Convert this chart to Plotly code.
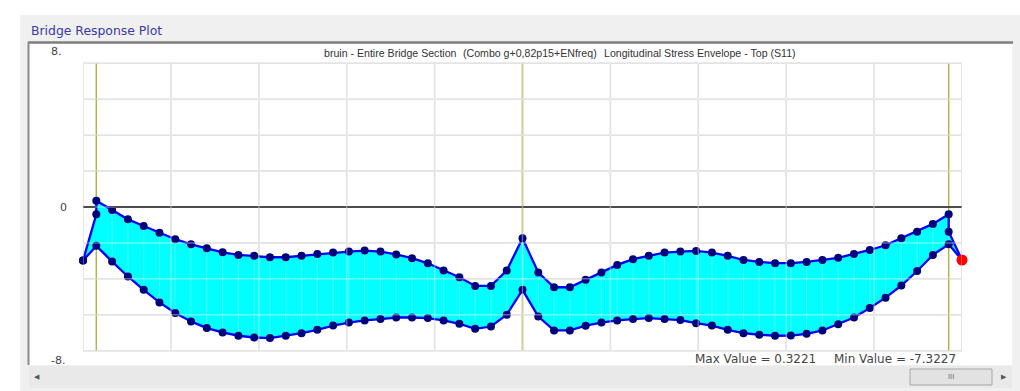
import plotly.graph_objects as go

# ---------------- data ----------------
span_len = 40.0            # m, each of the two spans
n_seg = 27                 # analysis stations per span
end_ext = 1.25             # overhang beyond abutments
stations = [round(i * span_len / n_seg, 3) for i in range(2 * n_seg + 1)]

support_x = [0.0, 40.0, 80.0]

# max (top) envelope, interior stations plus supports
upper_span1 = [-0.15, -0.63, -0.97, -1.31, -1.64, -1.90, -2.10, -2.31, -2.44, -2.49,
               -2.56, -2.56, -2.49, -2.39, -2.32, -2.27, -2.22, -2.27, -2.42, -2.61,
               -2.87, -3.24, -3.58, -4.02, -4.02, -3.24, -1.59]
upper_span2 = [-3.34, -4.09, -4.09, -3.71, -3.34, -2.95, -2.66, -2.49, -2.32, -2.27,
               -2.24, -2.32, -2.49, -2.70, -2.80, -2.86, -2.86, -2.80, -2.70, -2.59,
               -2.39, -2.19, -1.95, -1.59, -1.26, -0.86, -0.37]
lower_span1 = [-2.78, -3.54, -4.22, -4.86, -5.40, -5.83, -6.17, -6.39, -6.56, -6.65,
               -6.68, -6.56, -6.43, -6.26, -6.04, -5.89, -5.78, -5.71, -5.63, -5.63,
               -5.66, -5.78, -5.95, -6.21, -6.09, -5.49, -4.22]
lower_span2 = [-5.58, -6.29, -6.29, -6.05, -5.89, -5.78, -5.71, -5.66, -5.71, -5.76,
               -5.92, -6.04, -6.26, -6.43, -6.51, -6.56, -6.55, -6.46, -6.29, -5.97,
               -5.63, -5.15, -4.62, -4.00, -3.26, -2.44, -1.90]

start_val = -2.73
end_val = -2.70
upper_abut_left = [-0.37, 0.3221]     # two values at left abutment
upper_abut_right_extra = -1.26        # second value at right abutment
lower_abut_left = -1.98

max_value = 0.3221
min_value = -7.3227
y_ticks = ["8.", "0", "-8."]

chart_title = ["bruin - Entire Bridge Section",
               "(Combo g+0,82p15+ENfreq)",
               "Longitudinal Stress Envelope - Top (S11)"]
panel_title = "Bridge Response Plot"

# ---------------- assemble series ----------------
x_start = -end_ext
x_end = stations[-1] + end_ext
inner_x = stations[1:]
upper_x = [x_start, 0.0, 0.0] + inner_x + [stations[-1], x_end]
upper_y = [start_val] + upper_abut_left + upper_span1 + upper_span2 + [upper_abut_right_extra, end_val]
lower_x = [x_start, 0.0] + inner_x + [x_end]
lower_y = [start_val, lower_abut_left] + lower_span1 + lower_span2 + [end_val]

# ---------------- geometry helpers ----------------
W, H = 1020, 391
ML, MR, MT, MB = 83, 58, 50, 27
PW, PH = W - ML - MR, H - MT - MB

def px(X):
    return (X - ML) / PW

def py(Y):
    return (H - MB - Y) / PH

fig = go.Figure()

# envelope fill
fig.add_trace(go.Scatter(
    x=upper_x + lower_x[::-1], y=upper_y + lower_y[::-1],
    fill="toself", fillcolor="#00ffff", mode="none",
    hoverinfo="skip", showlegend=False))

# pale stripes inside the fill at stations
sx, sy = [], []
lo_map = dict(zip(lower_x, lower_y))
for xv, yv in zip(upper_x[3:-2], upper_y[3:-2]):
    sx += [xv, xv, None]
    sy += [lo_map.get(xv, yv), yv, None]
fig.add_trace(go.Scatter(x=sx, y=sy, mode="lines",
                         line=dict(color="rgba(255,255,255,0.3)", width=1),
                         hoverinfo="skip", showlegend=False))

for xs, ys in [(upper_x, upper_y), (lower_x, lower_y)]:
    fig.add_trace(go.Scatter(
        x=xs, y=ys, mode="lines+markers",
        line=dict(color="#0000ff", width=2.3),
        marker=dict(color="#00007a", size=8),
        cliponaxis=False, showlegend=False))

fig.add_trace(go.Scatter(x=[upper_x[-1]], y=[upper_y[-1]], mode="markers",
                         marker=dict(color="#ff0000", size=11),
                         cliponaxis=False, showlegend=False))

shapes = []
# panel / frame (paper coords)
shapes.append(dict(type="rect", xref="paper", yref="paper", x0=px(20), x1=px(1021),
                   y0=py(392), y1=py(15), fillcolor="#f0f0f0", line_width=0, layer="below"))
shapes.append(dict(type="rect", xref="paper", yref="paper", x0=px(28), x1=px(1012),
                   y0=py(365), y1=py(42), fillcolor="#ffffff", line_width=0, layer="below"))
shapes.append(dict(type="line", xref="paper", yref="paper", x0=px(28), x1=px(1013),
                   y0=py(42.5), y1=py(42.5), line=dict(color="#7e7e7e", width=2.5), layer="below"))
shapes.append(dict(type="line", xref="paper", yref="paper", x0=px(28.5), x1=px(28.5),
                   y0=py(365), y1=py(42), line=dict(color="#8a8a8a", width=2), layer="below"))
# scrollbar
shapes.append(dict(type="rect", xref="paper", yref="paper", x0=px(29), x1=px(1012),
                   y0=py(388), y1=py(366), fillcolor="#e9e9e9", line_width=0, layer="below"))
shapes.append(dict(type="rect", xref="paper", yref="paper", x0=px(910), x1=px(992),
                   y0=py(385), y1=py(369), fillcolor="#e2e2e2",
                   line=dict(color="#a6a6a6", width=1), layer="below"))

# grid (data coords)
gx0, gx1 = x_start, x_end
gy0, gy1 = -abs(min_value), abs(min_value)
nvx, nhy = 10, 8
grid_x = [gx0 + k * (gx1 - gx0) / nvx for k in range(nvx + 1)]
grid_y = [gy0 + k * (gy1 - gy0) / nhy for k in range(nhy + 1)]
for gxv in grid_x:
    shapes.append(dict(type="line", x0=gxv, x1=gxv, y0=gy0, y1=gy1,
                       line=dict(color="#d0d0d0", width=1.5), layer="below"))
for gyv in grid_y:
    shapes.append(dict(type="line", x0=gx0, x1=gx1, y0=gyv, y1=gyv,
                       line=dict(color="#d0d0d0", width=1.5), layer="below"))
# pale grid over the fill
for gxv in grid_x:
    shapes.append(dict(type="line", x0=gxv, x1=gxv, y0=gy0, y1=gy1,
                       line=dict(color="rgba(255,255,255,0.4)", width=1.5), layer="above"))
for gyv in grid_y:
    shapes.append(dict(type="line", x0=gx0, x1=gx1, y0=gyv, y1=gyv,
                       line=dict(color="rgba(255,255,255,0.4)", width=1.5), layer="above"))
# supports
for sxv in support_x:
    shapes.append(dict(type="line", x0=sxv, x1=sxv, y0=gy0, y1=gy1,
                       line=dict(color="#b4b44c", width=1.5), layer="below"))
# zero line
shapes.append(dict(type="line", x0=gx0, x1=gx1, y0=0, y1=0,
                   line=dict(color="#000000", width=2), layer="below"))

ann = []
txt_font = dict(family="DejaVu Sans", size=11, color="#444444")
ann.append(dict(text=panel_title, x=px(29), y=py(30), xanchor="left", yanchor="middle",
                font=dict(family="DejaVu Sans", size=12.4, color="#3a3aa8")))
title_pos = [322, 461, 602]
for t, X in zip(chart_title, title_pos):
    ann.append(dict(text=t, x=px(X), y=py(52.5), xanchor="left", yanchor="middle",
                    font=dict(family="Liberation Sans", size=10.6, color="#333333")))
ann.append(dict(text="Max Value = %.4f" % max_value, x=px(693), y=py(358.5), xanchor="left",
                yanchor="middle", font=dict(family="DejaVu Sans", size=12, color="#444444")))
ann.append(dict(text="Min Value = %.4f" % min_value, x=px(958), y=py(358.5), xanchor="right",
                yanchor="middle", font=dict(family="DejaVu Sans", size=12, color="#444444")))
ann.append(dict(text=y_ticks[0], x=px(64), y=py(51), xanchor="right", yanchor="middle", font=txt_font))
ann.append(dict(text=y_ticks[1], x=px(69), y=py(207), xanchor="right", yanchor="middle", font=txt_font))
ann.append(dict(text=y_ticks[2], x=px(67), y=py(360.5), xanchor="right", yanchor="middle", font=txt_font))
ann.append(dict(text="◀", x=px(37), y=py(377), xanchor="center", yanchor="middle",
                font=dict(family="DejaVu Sans", size=7, color="#555555")))
ann.append(dict(text="▶", x=px(1004), y=py(377), xanchor="center", yanchor="middle",
                font=dict(family="DejaVu Sans", size=7, color="#555555")))
ann.append(dict(text="III", x=px(951), y=py(377), xanchor="center", yanchor="middle",
                font=dict(family="DejaVu Sans", size=7, color="#666666")))
for a in ann:
    a.update(xref="paper", yref="paper", showarrow=False)

fig.update_layout(
    width=W, height=H,
    margin=dict(l=ML, r=MR, t=MT, b=MB, pad=0),
    paper_bgcolor="#ffffff", plot_bgcolor="rgba(0,0,0,0)",
    xaxis=dict(range=[x_start, x_end], visible=False, fixedrange=True),
    yaxis=dict(range=[-8, 8], visible=False, fixedrange=True),
    shapes=shapes, annotations=ann, showlegend=False,
)
fig.write_html("out.html", config={"displayModeBar": False},
               post_script="document.body.style.margin='0px';document.body.style.overflow='hidden';")
